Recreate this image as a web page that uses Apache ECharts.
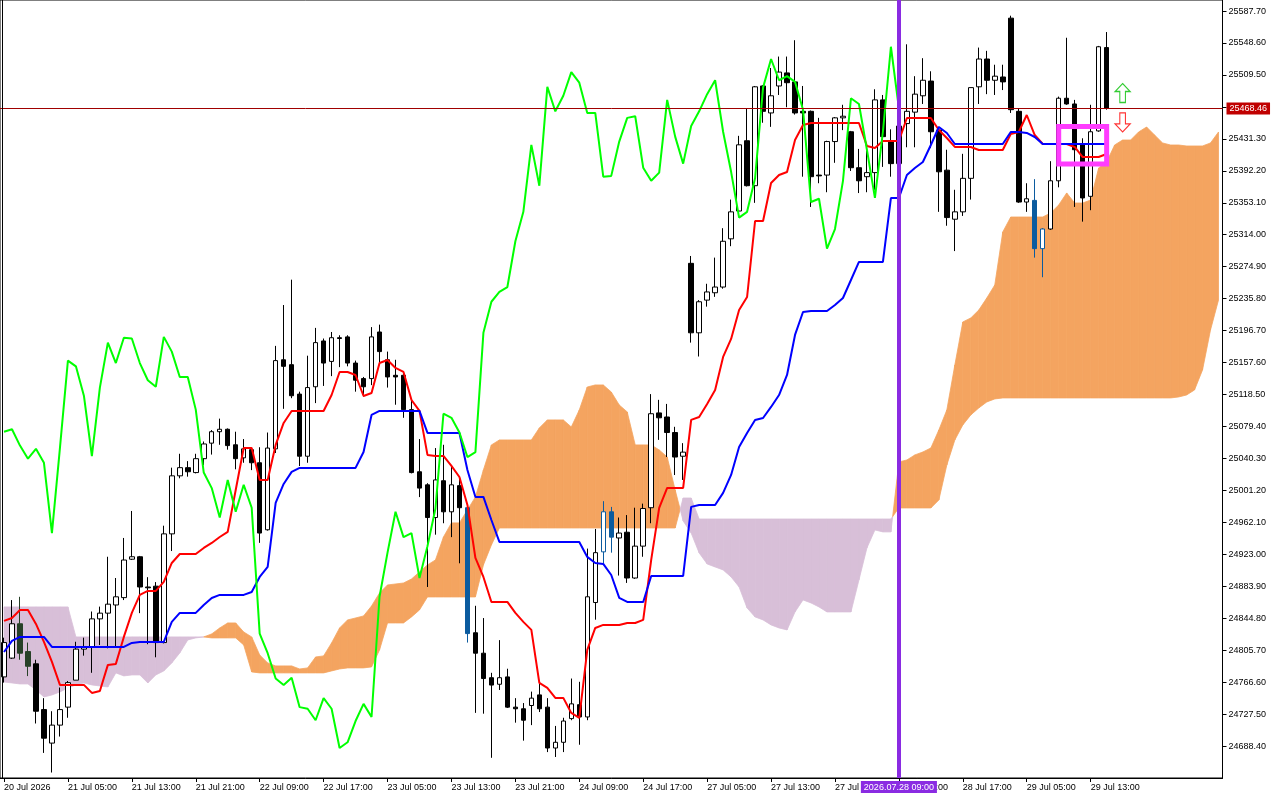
<!DOCTYPE html>
<html><head><meta charset="utf-8">
<script src="https://cdn.jsdelivr.net/npm/echarts@6/dist/echarts.min.js"></script>
<style>html,body{margin:0;padding:0;background:#fff;}#c{width:1280px;height:800px;}</style>
</head><body><div id="c"></div>
<script>
const tickLabels = ['20 Jul 2026','21 Jul 05:00','21 Jul 13:00','21 Jul 21:00','22 Jul 09:00','22 Jul 17:00','23 Jul 05:00','23 Jul 13:00','23 Jul 21:00','24 Jul 09:00','24 Jul 17:00','27 Jul 05:00','27 Jul 13:00','27 Jul 21:00','28 Jul 09:00','28 Jul 17:00','29 Jul 05:00','29 Jul 13:00'];
const barCount = 153;
// [open, close, low, high]
const ohlc = [
[24773,24815,24766,24821],[24796,24838,24795,24867],[24838,24802,24794,24871],[24804,24786,24774,24815],[24789,24731,24716,24794],
[24733,24698,24680,24747],[24692,24714,24656,24731],[24714,24733,24700,24760],[24736,24766,24723,24768],[24769,24807,24769,24816],
[24807,24810,24799,24821],[24810,24844,24778,24853],[24844,24851,24812,24859],[24851,24862,24808,24920],[24861,24871,24810,24894],
[24870,24916,24867,24943],[24917,24920,24916,24976],[24920,24883,24851,24921],[24883,24882,24813,24895],[24884,24815,24797,24889],
[24815,24948,24814,24958],[24948,25019,24927,25029],[25019,25029,25016,25046],[25029,25024,25018,25037],[25023,25040,25022,25046],
[25040,25058,25032,25061],[25059,25073,25045,25075],[25073,25076,25057,25089],[25076,25056,25051,25077],[25057,25040,25027,25073],
[25041,25052,25035,25064],[25051,25035,25026,25053],[25035,24949,24937,25054],[24953,25053,24952,25072],[25052,25160,25047,25178],
[25161,25153,25101,25228],[25155,25117,25114,25259],[25119,25043,25031,25122],[25043,25127,25035,25166],[25128,25182,25108,25200],
[25184,25157,25129,25187],[25159,25188,25141,25195],[25188,25187,25152,25191],[25189,25157,25153,25191],[25157,25136,25122,25160],
[25138,25128,25116,25140],[25138,25189,25130,25201],[25195,25171,25157,25204],[25161,25140,25127,25171],[25142,25140,25106,25161],
[25142,25100,25090,25145],[25100,25023,25022,25112],[25024,25004,24993,25064],[25008,24968,24883,25010],[24968,25014,24947,25053],
[25013,24975,24961,25057],[24975,25008,24944,25031],[25007,24980,24912,25018],[24980,24826,24815,24983],[24827,24802,24729,24860],
[24802,24771,24728,24845],[24772,24763,24674,24778],[24764,24772,24757,24818],[24773,24736,24735,24783],[24736,24734,24717,24747],
[24734,24720,24695,24741],[24738,24747,24714,24755],[24751,24734,24730,24766],[24736,24686,24681,24747],[24686,24693,24675,24713],
[24693,24719,24681,24723],[24722,24740,24720,24771],[24739,24724,24690,24767],[24724,24871,24720,24930],[24864,24925,24843,24954],
[24926,24975,24912,24988],[24975,24944,24925,24981],[24943,24949,24897,24968],[24950,24894,24888,24971],[24894,24933,24893,24980],
[24933,24979,24920,24985],[24980,25095,24961,25119],[25096,25090,25063,25112],[25091,25072,25042,25107],[25072,25042,25020,25079],
[25043,25048,25014,25059],[25279,25194,25182,25288],[25194,25232,25165,25234],[25234,25244,25226,25254],[25243,25250,25238,25286],
[25250,25306,25248,25322],[25309,25342,25300,25357],[25343,25424,25342,25435],[25429,25374,25373,25468],[25374,25495,25353,25496],
[25496,25465,25451,25497],[25463,25484,25446,25518],[25496,25513,25485,25532],[25512,25500,25470,25532],[25501,25463,25461,25552],
[25465,25463,25385,25496],[25465,25385,25348,25466],[25387,25386,25377,25457],[25387,25428,25366,25429],[25428,25457,25402,25458],
[25457,25459,25442,25473],[25440,25396,25392,25441],[25396,25380,25365,25419],[25385,25390,25366,25424],[25390,25479,25369,25492],
[25479,25434,25397,25485],[25428,25401,25385,25443],[25401,25447,25390,25452],[25450,25465,25421,25547],[25464,25486,25421,25508],
[25484,25503,25474,25530],[25502,25440,25420,25514],[25442,25391,25342,25446],[25393,25335,25325,25418],[25333,25342,25294,25369],
[25342,25383,25337,25413],[25383,25494,25357,25494],[25495,25529,25474,25543],[25529,25503,25486,25539],[25503,25508,25485,25522],
[25507,25501,25491,25522],[25579,25467,25463,25582],[25465,25354,25353,25469],[25354,25358,25342,25377],[25356,25297,25286,25382],
[25297,25321,25262,25322],[25321,25380,25320,25404],[25380,25481,25372,25483],[25481,25474,25473,25555],[25474,25418,25348,25479],
[25424,25359,25330,25432],[25361,25440,25344,25473],[25441,25544,25440,25545],[25543,25468.46,25467,25562]
];
const tenkan = [
24841.5,24845.1,24854.9,24854.9,24837.8,24815.8,24791.3,24763.2,24763.2,24763.2,
24763.2,24753.4,24755.8,24787.7,24788.9,24821.9,24851.3,24873.3,24878.2,24878.2,
24889.2,24912.4,24923.4,24923.4,24923.4,24930.8,24936.9,24944.2,24950.4,25001.7,
25053.1,25053.1,25014.0,25014.0,25056.8,25083.7,25098.4,25098.4,25098.4,25098.4,
25098.4,25117.9,25146.1,25146.1,25142.4,25116.7,25120.4,25157.1,25160.8,25151.0,
25146.1,25111.8,25098.4,25044.6,25043.3,25043.3,25031.1,25017.6,24983.4,24918.5,
24895.3,24864.7,24864.7,24864.7,24851.3,24840.3,24830.5,24765.6,24759.5,24747.3,
24747.3,24728.9,24722.8,24806.0,24832.9,24836.6,24836.6,24836.6,24839.0,24839.0,
24842.7,24916.1,24979.7,25004.2,25004.2,25004.2,25087.4,25091.0,25106.9,25124.1,
25164.5,25186.5,25221.9,25237.8,25330.8,25330.8,25377.3,25387.1,25390.8,25429.9,
25448.3,25450.7,25450.7,25450.7,25450.7,25450.7,25450.7,25450.7,25422.6,25420.1,
25428.7,25428.7,25428.7,25456.8,25456.8,25456.8,25456.8,25442.2,25432.4,25421.4,
25421.4,25421.4,25417.7,25417.7,25417.7,25417.7,25437.3,25439.7,25460.5,25436.0,
25425.0,25425.0,25425.0,25425.0,25421.4,25409.1,25409.1,25409.1,25412.8
];
const kijun = [
24803.5,24817.0,24821.9,24821.9,24821.9,24821.9,24809.7,24809.7,24809.7,24809.7,
24809.7,24809.7,24809.7,24809.7,24809.7,24809.7,24814.6,24815.8,24815.8,24815.8,
24815.8,24840.3,24851.3,24851.3,24851.3,24861.0,24869.6,24873.3,24873.3,24873.3,
24873.3,24876.9,24895.3,24907.5,24985.8,25009.1,25023.8,25028.7,25028.7,25028.7,
25028.7,25028.7,25028.7,25028.7,25028.7,25048.2,25093.5,25098.4,25098.4,25098.4,
25098.4,25098.4,25098.4,25071.5,25071.5,25071.5,25071.5,25071.5,25026.2,24993.2,
24993.2,24965.0,24938.1,24938.1,24938.1,24938.1,24938.1,24938.1,24938.1,24938.1,
24938.1,24938.1,24938.1,24919.8,24912.4,24911.2,24897.7,24869.6,24864.7,24864.7,
24864.7,24896.5,24896.5,24896.5,24896.5,24896.5,24981.0,24983.4,24983.4,24983.4,
24998.1,25020.1,25054.3,25071.5,25087.4,25089.8,25103.3,25117.9,25142.4,25191.4,
25219.5,25220.7,25220.7,25220.7,25228.1,25236.6,25258.6,25280.7,25280.7,25280.7,
25280.7,25358.9,25358.9,25387.1,25395.7,25403.0,25423.8,25445.8,25438.5,25425.0,
25425.0,25425.0,25425.0,25425.0,25425.0,25425.0,25439.7,25439.7,25438.5,25433.6,
25425.0,25425.0,25425.0,25425.0,25425.0,25425.0,25425.0,25425.0,25425.0
];
const spanA = [
24766.8,24765.6,24764.4,24764.4,24757.1,24748.5,24750.9,24754.6,24759.5,24763.2,
24765.6,24763.2,24761.9,24760.7,24777.9,24774.2,24775.4,24775.4,24765.6,24775.4,
24780.3,24790.1,24802.3,24818.2,24820.7,24821.9,24825.6,24832.9,24839.0,24839.0,
24828.0,24821.9,24799.9,24790.1,24786.4,24786.4,24786.4,24782.7,24784.0,24797.4,
24798.7,24814.6,24832.9,24842.7,24845.1,24847.6,24859.8,24875.7,24885.5,24886.7,
24887.9,24892.8,24901.4,24910.0,24916.1,24944.2,24961.4,24961.4,24977.3,24993.2,
25026.2,25056.8,25062.9,25062.9,25062.9,25062.9,25062.9,25077.6,25087.4,25087.4,
25087.4,25078.8,25099.6,25127.7,25130.2,25130.2,25121.6,25105.7,25097.2,25056.8,
25056.8,25056.8,25050.7,25042.1,25001.7,24963.8,24949.1,24924.7,24911.2,24907.5,
24903.9,24895.3,24883.1,24857.4,24846.4,24842.7,24836.6,24832.9,24830.5,24852.5,
24867.2,24863.5,24858.6,24852.5,24852.5,24852.5,24852.5,24891.6,24930.8,24952.8,
24950.4,24950.4,25036.0,25038.4,25044.6,25048.2,25053.1,25075.1,25099.6,25154.6,
25207.3,25212.2,25221.9,25236.6,25252.5,25317.4,25335.7,25335.7,25335.7,25335.7,
25335.7,25340.6,25350.4,25365.1,25352.8,25352.8,25356.5,25395.7,25403.0,25423.8,
25429.9,25429.9,25439.7,25445.8,25436.0,25426.3,25423.8,25423.8,25422.6,25422.6,
25422.6,25426.3,25439.7
];
const spanB = [
24858.6,24858.6,24858.6,24858.6,24858.6,24858.6,24858.6,24858.6,24858.6,24821.9,
24821.9,24821.9,24821.9,24821.9,24821.9,24821.9,24821.9,24821.9,24821.9,24821.9,
24821.9,24821.9,24821.9,24821.9,24821.9,24821.9,24820.7,24820.7,24820.7,24820.7,
24812.1,24779.1,24777.9,24777.9,24777.9,24777.9,24777.9,24777.9,24777.9,24777.9,
24777.9,24780.3,24782.7,24784.0,24784.0,24784.0,24785.2,24806.0,24839.0,24839.0,
24839.0,24846.4,24854.9,24870.8,24870.8,24870.8,24870.8,24870.8,24870.8,24870.8,
24910.0,24934.4,24955.2,24955.2,24955.2,24955.2,24955.2,24955.2,24955.2,24955.2,
24955.2,24955.2,24955.2,24955.2,24955.2,24955.2,24955.2,24955.2,24955.2,24955.2,
24955.2,24955.2,24955.2,24955.2,24955.2,24991.9,24991.9,24966.2,24966.2,24966.2,
24966.2,24966.2,24966.2,24966.2,24966.2,24966.2,24966.2,24966.2,24966.2,24966.2,
24966.2,24966.2,24966.2,24966.2,24966.2,24966.2,24966.2,24966.2,24966.2,24966.2,
24966.2,24966.2,24979.7,24979.7,24979.7,24979.7,24979.7,24989.5,25032.3,25062.9,
25081.3,25093.5,25102.1,25109.4,25113.1,25114.3,25114.3,25114.3,25114.3,25114.3,
25114.3,25114.3,25114.3,25114.3,25114.3,25114.3,25114.3,25114.3,25114.3,25114.3,
25114.3,25114.3,25114.3,25114.3,25114.3,25114.3,25114.3,25115.5,25117.9,25124.1,
25148.6,25197.5,25234.2
];
const chikouShift = 26;
const bidPrice = 25468.46;
const markerBar = 112, markerLabel = '2026.07.28 09:00';
const boxCorners = [[132, 25446.5], [138, 25400.6]];
const arrowUpPoint = [140, 25487.4];
const arrowDownPoint = [140, 25451.4];
const yMin = 24649.3, yMax = 25601.2, yStep = 39.1;

// styles (kept apart from data)
const FONT = 'Liberation Sans';
const cloudInk = {2:'#274027',3:'#274027',58:'#0b5b9f',76:'#0b5b9f',129:'#0b5b9f',75:'#0b5b9f',130:'#0b5b9f'};
const UP_COLOR = '#F4A460', DOWN_COLOR = '#D8BFD8';

const categories = Array.from({length: barCount}, (_, i) => String(i));
const closes = ohlc.map(d => d[1]);
const chikou = closes.slice(chikouShift);
const candleData = ohlc.map((d, i) => {
  const ink = cloudInk[i];
  if (!ink) return d;
  return {value: d, itemStyle: {color0: ink, borderColor0: ink, borderColor: ink}};
});
const cloudData = [];
for (let i = 0; i < spanA.length - 1; i++) cloudData.push([i, spanA[i], spanB[i], spanA[i+1], spanB[i+1]]);

const tickFn = (idx) => idx % 8 === 0 && idx / 8 < tickLabels.length;

function renderCloud(params, api) {
  const i = api.value(0);
  const a0 = api.value(1), b0 = api.value(2), a1 = api.value(3), b1 = api.value(4);
  const A0 = api.coord([i, a0]), B0 = api.coord([i, b0]);
  const A1 = api.coord([i + 1, a1]), B1 = api.coord([i + 1, b1]);
  const d0 = a0 - b0, d1 = a1 - b1;
  const poly = (pts, up) => ({type: 'polygon', shape: {points: pts},
    style: {fill: up ? UP_COLOR : DOWN_COLOR, stroke: up ? UP_COLOR : DOWN_COLOR, lineWidth: 0.8}});
  if (d0 * d1 < 0) {
    const t = d0 / (d0 - d1);
    const X = [A0[0] + t * (A1[0] - A0[0]), A0[1] + t * (A1[1] - A0[1])];
    return {type: 'group', children: [poly([A0, X, B0], d0 > 0), poly([X, A1, B1], d1 > 0)]};
  }
  return poly([A0, A1, B1, B0], d0 + d1 >= 0);
}

const chart = echarts.init(document.getElementById('c'), null, {renderer: 'canvas'});
chart.setOption({
  animation: false,
  backgroundColor: '#fff',
  grid: {left: -1.5, right: 57.5, top: 0, bottom: 22, show: true, borderColor: '#000', borderWidth: 1},
  xAxis: {
    type: 'category', data: categories, boundaryGap: true,
    axisLine: {show: true, lineStyle: {color: '#000', width: 1}},
    axisTick: {show: true, alignWithLabel: true, interval: tickFn, length: 4, lineStyle: {color: '#000'}},
    axisLabel: {interval: tickFn, formatter: (v) => tickLabels[Number(v) / 8] || '', align: 'left',
      color: '#000', fontSize: 9, fontFamily: FONT, margin: 5},
    splitLine: {show: false}
  },
  yAxis: {
    type: 'value', position: 'right', min: yMin, max: yMax, interval: yStep,
    axisLine: {show: true, lineStyle: {color: '#000', width: 1}},
    axisTick: {show: true, length: 4, lineStyle: {color: '#000'}},
    axisLabel: {formatter: (v) => v.toFixed(2), color: '#000', fontSize: 9, fontFamily: FONT, margin: 6,
      showMinLabel: false, showMaxLabel: false},
    splitLine: {show: false}
  },
  series: [
    {type: 'custom', name: 'Kumo', data: cloudData, renderItem: renderCloud, clip: true, z: 1,
     encode: {x: 0, y: [1, 2]}, silent: true},
    {type: 'candlestick', name: 'Price', data: candleData, barWidth: 5, z: 2, silent: true,
     itemStyle: {color: '#ffffff', color0: '#000000', borderColor: '#000000', borderColor0: '#000000', borderWidth: 1},
     markLine: {symbol: 'none', silent: true, animation: false,
       lineStyle: {color: '#a00000', width: 1, type: 'solid'},
       label: {show: true, position: 'end', formatter: bidPrice.toFixed(2), color: '#fff', backgroundColor: '#c00000',
         padding: [2, 3, 1, 3], fontSize: 9, fontFamily: FONT, distance: 4},
       data: [{yAxis: bidPrice}]},
     markArea: {silent: true, z: 10, itemStyle: {color: 'rgba(0,0,0,0)', borderColor: '#ff3cff', borderWidth: 5},
       data: [[{xAxis: String(boxCorners[0][0]), yAxis: boxCorners[0][1]}, {xAxis: String(boxCorners[1][0]), yAxis: boxCorners[1][1]}]]}
    },
    {type: 'line', name: 'Tenkan-sen', data: tenkan, symbol: 'none', z: 3, silent: true,
     lineStyle: {color: '#ff0000', width: 2}},
    {type: 'line', name: 'Kijun-sen', data: kijun, symbol: 'none', z: 3, silent: true,
     lineStyle: {color: '#0000ff', width: 2}},
    {type: 'line', name: 'Chikou Span', data: chikou, symbol: 'none', z: 3, silent: true,
     lineStyle: {color: '#00ff00', width: 2},
     markLine: {symbol: 'none', silent: true, animation: false,
       lineStyle: {color: '#8a2be2', width: 4, type: 'solid'},
       label: {show: true, position: 'start', formatter: markerLabel, color: '#fff', backgroundColor: '#8a2be2',
         padding: [2, 3, 1, 3], fontSize: 9, fontFamily: FONT, distance: 3},
       data: [{xAxis: String(markerBar)}]}
    },
    {type: 'scatter', name: 'Up', data: [arrowUpPoint], z: 6, silent: true,
     symbol: 'path://M8,0 L16,8 L11,8 L11,19 L5,19 L5,8 L0,8 Z', symbolSize: [15, 19],
     itemStyle: {color: '#ffffff', borderColor: '#33cc33', borderWidth: 1.2, opacity: 1}},
    {type: 'scatter', name: 'Down', data: [arrowDownPoint], z: 6, silent: true,
     symbol: 'path://M5,0 L11,0 L11,11 L16,11 L8,19 L0,11 L5,11 Z', symbolSize: [15, 19],
     itemStyle: {color: '#ffffff', borderColor: '#ff3333', borderWidth: 1.2, opacity: 1}}
  ],
  graphic: [{type: 'line', shape: {x1: 2.5, y1: 0, x2: 2.5, y2: 778}, style: {stroke: '#000', lineWidth: 1}, z: 10, silent: true}]
});
</script></body></html>
